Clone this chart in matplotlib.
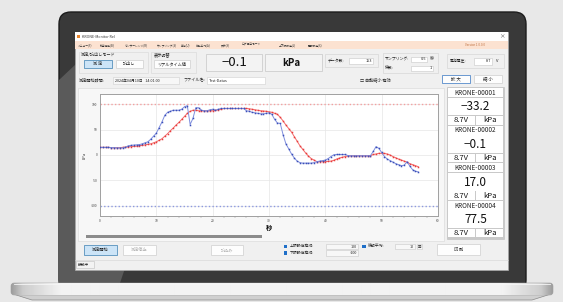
import numpy as np
import matplotlib
matplotlib.use("Agg")
import matplotlib.pyplot as plt
from matplotlib.patches import Rectangle, FancyBboxPatch, Polygon

plt.rcParams['font.family'] = ['Noto Sans CJK JP', 'DejaVu Sans']

# sampling interval (s) shown in the app header
SAMPLING = 0.5

# measured pressure (kPa), one value per sample
measured = [15, 15, 15, 15, 14.5, 14.5, 14, 14, 14, 15,
            18, 19, 19.5, 20, 20.5, 22, 24, 26, 31, 37,
            43, 54, 65, 78, 84, 86, 88, 88, 88, 90,
            95, 97, 60, 72, 93, 93, 88, 87, 87, 89,
            90, 88, 90, 91.5, 91.5, 91.5, 91.5, 91.5, 91.5, 91.5,
            91.5, 91.5, 87, 86, 84, 83, 82, 81, 81, 82,
            83, 80, 70, 63, 62, 40, 22, 12, 2, -6,
            -12, -15, -16, -16, -16, -16, -15, -13, -12, -11,
            -10, -7, -3, 0.5, 1, 1, 1, 1, -1, -1.5,
            -1.5, -1.5, -1.5, -1.5, -1.5, -1.5, -1.5, 7, 16.5, 13,
            5, -3, -8, -11, -14, -17, -19, -21, -20, -13,
            -22, -29, -32, -33.2]

# moving average (10 samples)
moving_avg = [15, 15, 15, 15, 14.5, 14.5, 14.5, 14.5, 15, 15.5,
              16, 16.5, 17, 17.5, 18.5, 19, 20, 21, 22, 24,
              26, 29, 32, 37, 42, 48, 53, 59, 64, 70,
              76, 82, 86, 88, 88, 87, 87, 87, 87, 87,
              87, 88, 89, 90, 91.5, 91.5, 91.5, 91.5, 91.5, 91.5,
              91.5, 91.5, 91.5, 91, 90, 89, 88, 87, 86.5, 86,
              85, 84, 82, 80, 74, 67, 59, 52, 45, 36,
              27, 18, 11, 4, -2, -7, -10, -13, -13, -13,
              -13, -12.5, -12, -10.5, -8, -6, -4.5, -3, -2, -1.5,
              -1.5, -1.5, -1.5, -1.5, -1.5, -1.5, -1.5, 1, 2, 3.3,
              3.5, 3, 2, 0, -3, -5.5, -8, -10, -12, -14,
              -17, -19, -21, -23]

upper_limit = 100
lower_limit = -100
x_ticks = [0, 10, 20, 30, 40, 50, 60]
y_ticks = [-100, -50, 0, 50, 100]

menu_items = ['メニュー(F)', '私用機能(B)', 'センサーレンジ(R)', 'サンプリング(S)', '単位(U)',
              '移動平均(A)', '表示(X)', 'ログ保存モード', '上下限設定(L)', '警報設定(X)']
sensors = ['KRONE-00001', 'KRONE-00002', 'KRONE-00003', 'KRONE-00004']
sensor_values = ['−33.2', '−0.1', '17.0', '77.5']
battery = '8.7V'
unit = 'kPa'

W, H = 563, 302
fig = plt.figure(figsize=(W / 100, H / 100), dpi=100)
fig.patch.set_facecolor('#e8e8e8')
ui = fig.add_axes([0, 0, 1, 1])
ui.set_xlim(0, W)
ui.set_ylim(H, 0)
ui.axis('off')


def rect(x0, y0, x1, y1, fc, ec='none', lw=0.5, z=2):
    ui.add_patch(Rectangle((x0, y0), x1 - x0, y1 - y0, facecolor=fc,
                           edgecolor=ec, linewidth=lw, zorder=z))


def label(x, y, s, size=3, color='#222222', ha='left', weight='normal', z=5):
    ui.text(x, y, s, fontsize=size, color=color, ha=ha, va='center',
            fontweight=weight, zorder=z)


def button(x0, y0, x1, y1, s, active=False, enabled=True, size=3):
    fc = '#cce4f7' if active else '#fdfdfd'
    ec = '#3c7fb1' if active else '#cfcfcf'
    rect(x0, y0, x1, y1, fc, ec, 0.5)
    label((x0 + x1) / 2, (y0 + y1) / 2, s, size, '#222222' if enabled else '#b0b0b0', ha='center')


# laptop lid
ui.add_patch(FancyBboxPatch((59, 12), 467, 280, boxstyle='round,pad=0,rounding_size=12',
                            facecolor='#393939', edgecolor='#1c1c1c', linewidth=1.0, zorder=1))
ui.add_patch(Polygon([(59, 80), (59, 283), (120, 283), (205, 32), (110, 32)],
                     closed=True, facecolor='#5a5a5a', edgecolor='none', zorder=1.5))

# application window
rect(75, 32, 508, 270, '#f0f0f0', '#a8a8a8', 0.5)
rect(75, 32, 508, 41, '#ffffff')
rect(77, 34.5, 80, 38, '#e8862e')
label(82, 36.5, 'KRONE-Monitor Rel', 2.6, '#333333')
label(502, 36.5, '×', 4, '#444444', ha='center')
rect(75, 41, 508, 49, '#fce2d1')
menu_x = [78, 100, 125, 157, 181, 196, 221, 242, 279, 308]
for mx, item in zip(menu_x, menu_items):
    label(mx, 45, item, 2.0, '#333333')
label(465, 45, 'Version 1.0.0.0', 2.2, '#c07040')

# mode groups
rect(79, 52, 148, 73, 'none', '#d6d6d6', 0.4)
label(81, 54.5, '測定/読出しモード', 3)
button(84, 60, 112, 68, '測 定', active=True)
button(116, 60, 143, 68, '読出し')
rect(151, 52, 196, 73, 'none', '#d6d6d6', 0.4)
label(154, 54.5, '表示切替', 3)
button(154, 60, 190, 68, 'リアルタイム値')

# big readout
rect(206, 54, 262, 71, '#f3f3f3', '#c6c6c6', 0.5)
label(234, 62.5, '−0.1', 9.5, '#111111', ha='center')
rect(265, 54, 322, 71, '#f3f3f3', '#c6c6c6', 0.5)
label(291, 62.5, unit, 7, '#111111', ha='center', weight='bold')

# data count
rect(325, 54, 378, 67, 'none', '#d0d0d0', 0.4)
label(328, 60.5, 'データ数:', 2.8)
rect(349, 57.5, 373, 64, '#ffffff', '#c8c8c8', 0.4)
label(372, 60.7, '153', 2.8, ha='right')

# sampling
rect(383, 53, 438, 73, 'none', '#d0d0d0', 0.4)
label(385, 59.3, 'サンプリング:', 2.8)
rect(411, 56.5, 427, 62.3, '#ffffff', '#c8c8c8', 0.4)
label(426, 59.4, str(SAMPLING), 2.8, ha='right')
label(430, 59.3, '秒', 3)
label(385, 68.3, '係数:', 2.8)
rect(411, 65.5, 433, 71.2, '#ffffff', '#c8c8c8', 0.4)
label(432, 68.4, '1', 2.8, ha='right')

# battery
rect(447, 54, 504, 68, 'none', '#d0d0d0', 0.4)
label(450, 61, '電池電圧:', 2.8)
rect(474, 58, 492, 64.5, '#ffffff', '#c8c8c8', 0.4)
label(491, 61.2, '8.7', 2.8, ha='right')
label(496, 61, 'V', 3)

# start time / file name row
label(79, 80.3, '測定開始時間:', 3)
rect(113, 77, 179, 84, '#f7f7f7', '#d0d0d0', 0.4)
label(115, 80.5, '2024年04月10日   14:01:00', 2.7)
label(183, 80.3, 'ファイル名:', 3)
rect(207, 77, 265, 84, '#ffffff', '#d0d0d0', 0.4)
label(209, 80.5, 'Test-Datas', 2.7)
label(360, 80.3, '□ 自動縮小 有効', 3)
button(442, 75, 470, 83, '拡 大', size=3.2)
rect(442, 75, 470, 83, 'none', '#5a8fd0', 0.6)
button(474, 75, 502, 83, '縮 小', size=3.2)

# chart panel and scrollbar
rect(78, 88, 444, 241, '#f7f7f7', '#d8d8d8', 0.4)
rect(86, 235, 262, 238, '#8c8c8c', z=3)

# sensor cards
rect(447, 87, 504, 238.5, '#c9c9c9', '#bdbdbd', 0.4)
for i, (name, val) in enumerate(zip(sensors, sensor_values)):
    y0 = 88 + i * 37.6
    rect(448, y0, 503, y0 + 9, '#ffffff')
    label(475.5, y0 + 4.7, name, 4.6, '#222222', ha='center')
    rect(448, y0 + 9.6, 503, y0 + 27.4, '#ffffff')
    label(475.5, y0 + 18.8, val, 8.5, '#111111', ha='center')
    rect(448, y0 + 28, 475.3, y0 + 36.6, '#ffffff')
    rect(476.3, y0 + 28, 503, y0 + 36.6, '#ffffff')
    label(461.5, y0 + 32.5, battery, 5.5, '#111111', ha='center')
    label(489.5, y0 + 32.5, unit, 5.5, '#111111', ha='center')

# bottom controls
button(84, 245, 117, 255, '測定開始', active=True)
button(123, 245, 156, 255, '測定停止', enabled=False)
button(211, 245, 243, 255, '読込み', enabled=False)
rect(283.5, 244.5, 287, 248, '#1f6fc8')
rect(283.5, 251, 287, 254.5, '#1f6fc8')
label(290, 246.4, '上限設定有効:', 2.8)
label(290, 252.9, '下限設定有効:', 2.8)
rect(326, 243.5, 358, 249.3, '#f7f7f7', '#c8c8c8', 0.4)
label(357, 246.5, str(upper_limit), 2.7, ha='right')
rect(326, 250, 358, 255.8, '#f7f7f7', '#c8c8c8', 0.4)
label(357, 253, str(lower_limit), 2.7, ha='right')
rect(362, 244.5, 365.5, 248, '#1f6fc8')
label(368, 246.4, '移動平均:', 2.8)
rect(395, 243.5, 415, 249.3, '#f7f7f7', '#c8c8c8', 0.4)
label(414, 246.5, '10', 2.7, ha='right')
rect(417, 243.5, 422, 249.3, '#f7f7f7', '#c8c8c8', 0.4)
label(419.5, 246.5, '回', 2.5, ha='center')
button(437, 244, 480, 255, '印 刷')

# status bar
ui.plot([75, 508], [259.5, 259.5], color='#d4d4d4', lw=0.4, zorder=3)
rect(76, 261, 94, 268, '#f3f3f3', '#c0c0c0', 0.4)
label(77.5, 264.5, '接続中', 2.7)

# laptop base
base = FancyBboxPatch((11, 283), 542, 12, boxstyle='round,pad=0,rounding_size=3',
                      facecolor='#dcdcdc', edgecolor='#a0a0a0', linewidth=0.4, zorder=6)
ui.add_patch(Polygon([(13, 294), (551, 294), (532, 300), (32, 300)], closed=True,
                     facecolor='#cfcfcf', edgecolor='#8a8a8a', linewidth=0.5, zorder=5))
ui.add_patch(base)
gx = np.linspace(11, 553, 300)
shade = np.interp(gx, [11, 22, 60, 504, 542, 553], [0.62, 0.80, 0.95, 0.95, 0.80, 0.62])
img = ui.imshow(np.tile(shade, (12, 1)), cmap='gray', vmin=0, vmax=1, extent=(11, 553, 295, 283),
                aspect='auto', zorder=6.5, interpolation='bilinear')
img.set_clip_path(base)
ui.plot([14, 550], [283.6, 283.6], color='#f6f6f6', lw=0.6, zorder=7)
ui.set_xlim(0, W)
ui.set_ylim(H, 0)

# chart
ax = fig.add_axes([100 / W, (H - 216) / H, 338 / W, 122 / H])
t = np.arange(len(measured)) * SAMPLING
ax.set_facecolor('#ffffff')
ax.axhline(upper_limit, color='#f3a0a0', lw=1.0, ls=(0, (1, 1.6)), zorder=2)
ax.axhline(lower_limit, color='#8d99e0', lw=1.0, ls=(0, (1, 1.6)), zorder=2)
ax.plot(t, moving_avg, color='#f26a6a', lw=0.7, marker='s', ms=1.1,
        mfc='#e83c3c', mec='none', zorder=3)
ax.plot(t, measured, color='#7f8ede', lw=0.7, marker='s', ms=1.1,
        mfc='#3b4fb8', mec='none', zorder=4)
ax.set_xlim(0, 60)
ax.set_ylim(-120, 120)
ax.set_xticks(x_ticks)
ax.set_xticklabels([str(v) for v in x_ticks])
ax.set_xticks(np.arange(0, 61, 2), minor=True)
ax.set_yticks(y_ticks)
ax.set_yticklabels([str(v) for v in y_ticks])
ax.grid(True, color='#e6e6e6', lw=0.5)
ax.tick_params(labelsize=2.4, length=0, pad=2, colors='#444444')
ax.tick_params(axis='x', which='minor', length=1.2, width=0.3, color='#888888')
for s in ax.spines.values():
    s.set_color('#a0a0a0')
    s.set_linewidth(0.7)
ax.set_xlabel('秒', fontsize=4.5, labelpad=1, fontweight='bold')
ax.set_ylabel('kPa', fontsize=3, labelpad=3, color='#333333')

fig.savefig('out.png', dpi=100, facecolor=fig.get_facecolor())
